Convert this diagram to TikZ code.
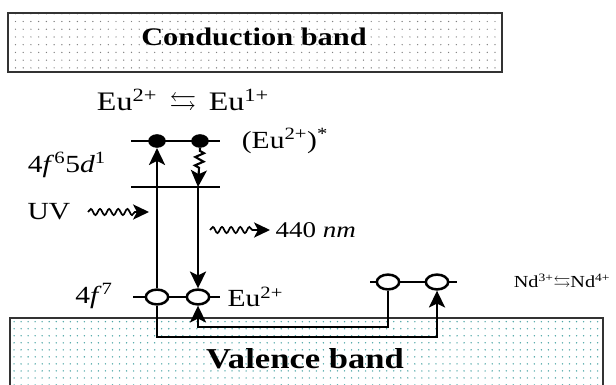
\documentclass[tikz,border=0pt]{standalone}
\usepackage{amssymb}
\usepackage{fontspec}
\setmainfont{Liberation Serif}[FakeStretch=1.2]
\usetikzlibrary{arrows.meta,shapes.geometric,patterns.meta,decorations.pathmorphing}
\tikzset{
  band/.style={draw=black!80, line width=1.4pt},
  lvl/.style={line width=2pt},
  hole/.style={ellipse, draw, line width=1.8pt, fill=white, minimum width=0.56cm, minimum height=0.37cm, inner sep=0pt},
  elec/.style={ellipse, fill=black, minimum width=0.44cm, minimum height=0.34cm, inner sep=0pt},
  flow/.style={-{Stealth[length=4.2mm, width=4mm, inset=1mm]}, line width=2pt},
  wave/.style={-{Stealth[length=4mm, width=3.8mm, inset=1mm]}, line width=1.2pt, decorate,
    decoration={snake, amplitude=2.2pt, segment length=6.5pt, post length=3.5mm}},
  lbl/.style={font=\fontsize{17.5}{19}\selectfont, inner sep=1pt},
}
\begin{document}
\begin{tikzpicture}[x=0.025cm, y=-0.025cm]
    \clip (0,0) rectangle (616,385);
    % bands
    \fill[white] (0,0) rectangle (616,385);
    \draw[band, pattern={Dots[distance=5.5pt, radius=0.5pt]}, pattern color=black!50] (8,13) rectangle (502,72);
    \draw[band, pattern={Dots[distance=5pt, radius=0.55pt]}, pattern color=teal!70] (10,318) rectangle (603,400);
    \node[font=\fontsize{18}{20}\selectfont\bfseries] (cb) at (254,37) {Conduction band};
    \node[font=\fontsize{20.5}{22}\selectfont\bfseries] (vb) at (305,359) {Valence band};
    % Eu levels
    \draw[lvl] (131,141) -- (220,141);
    \draw[lvl] (131,187) -- (220,187);
    \draw[lvl] (133,297) -- (220,297);
    \coordinate (mid) at (198,187);
    \node[elec] (e1) at (157,141) {};
    \node[elec] (e2) at (200,141) {};
    \node[hole] (h1) at (157,297) {};
    \node[hole] (h2) at (198,297) {};
    % Nd levels
    \draw[lvl] (370,282) -- (457,282);
    \node[hole] (h3) at (388,282) {};
    \node[hole] (h4) at (437,282) {};
    % transitions
    \draw[flow] (h1.north) -- (e1.south);
    \draw[flow, decorate, decoration={zigzag, amplitude=3pt, segment length=6pt, pre length=2pt, post length=4mm}, line width=1.5pt] (e2.south) -- (mid);
    \draw[flow] (mid) -- (h2.north);
    \coordinate (lowA) at (0,337);
    \coordinate (lowB) at (0,327);
    \draw[flow] (h1.south) |- (h4 |- lowA) -- (h4.south);
    \draw[flow] (h3.south) |- (h2 |- lowB) -- (h2.south);
    % light
    \coordinate (uvs) at (88,212);
    \coordinate (uve) at (149,212);
    \coordinate (ems) at (210,230);
    \coordinate (eme) at (270,230);
    \draw[wave] (uvs) -- (uve);
    \draw[wave] (ems) -- (eme);
    % labels
    \node[lbl, font=\fontsize{19}{21}\selectfont] (eu) at (183,102) {Eu\textsuperscript{2+}\, $\leftrightarrows$\, Eu\textsuperscript{1+}};
    \node[lbl] (euex) at (285,141) {(Eu\textsuperscript{2+})\textsuperscript{*}};
    \node[lbl] (fd) at (67,165) {4\textit{f}\textsuperscript{6}5\textit{d}\textsuperscript{1}};
    \node[lbl] (uv) at (49,212) {UV};
    \node[lbl, anchor=west, font=\fontsize{16}{18}\selectfont] (nm) at (274,230) {440 \textit{nm}};
    \node[lbl] (f7) at (94,296) {4\textit{f}\textsuperscript{7}};
    \node[lbl, anchor=west] (eu2) at (226,297) {Eu\textsuperscript{2+}};
    \node[font=\fontsize{12}{14}\selectfont] (nd) at (562,282) {Nd\textsuperscript{3+}$\leftrightarrows$Nd\textsuperscript{4+}};
\end{tikzpicture}
\end{document}
